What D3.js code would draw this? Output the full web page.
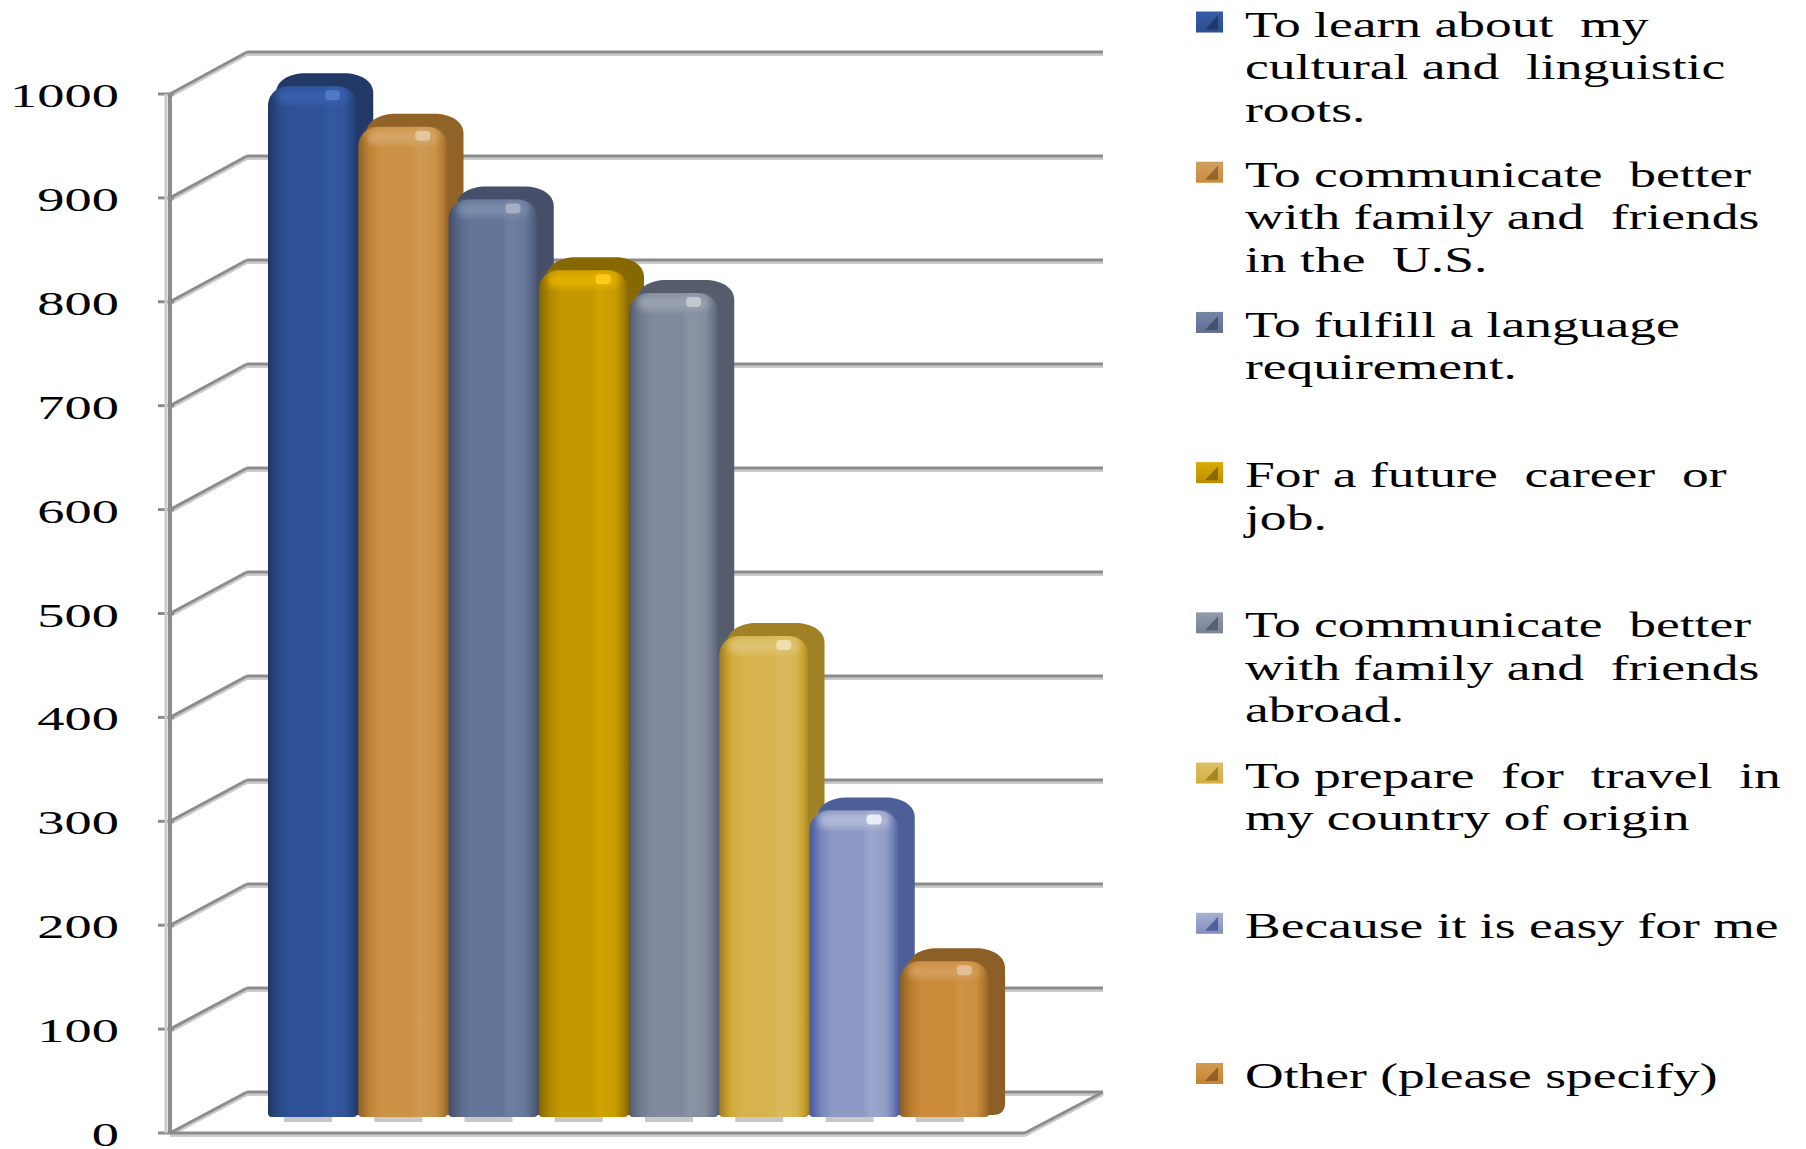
<!DOCTYPE html>
<html><head><meta charset="utf-8">
<style>html,body{margin:0;padding:0;background:#fff}svg{display:block}text{font-family:"Liberation Serif",serif;fill:#000}</style>
<script src="https://cdn.jsdelivr.net/npm/d3@7/dist/d3.min.js"></script>
</head><body><svg id="c" width="1806" height="1149"></svg>
<script>
const categories=[
 "To learn about my cultural and linguistic roots.",
 "To communicate better with family and friends in the U.S.",
 "To fulfill a language requirement.",
 "For a future career or job.",
 "To communicate better with family and friends abroad.",
 "To prepare for travel in my country of origin",
 "Because it is easy for me",
 "Other (please specify)"];
const legendLines=[
 ["To learn about  my","cultural and  linguistic","roots."],
 ["To communicate  better","with family and  friends","in the  U.S."],
 ["To fulfill a language","requirement."],
 ["For a future  career  or","job."],
 ["To communicate  better","with family and  friends","abroad."],
 ["To prepare  for  travel  in","my country of origin"],
 ["Because it is easy for me"],
 ["Other (please specify)"]];
const values=[992,953,883,815,793,463,295,150];
const ticks=[0,100,200,300,400,500,600,700,800,900,1000];
const baseColors=["#2f5296","#cb9145","#64759a","#c49800","#808a9c","#d6b34c","#8d99c5","#cb8b3a"];

const svg=d3.select("#c");
const y=d3.scaleLinear().domain([0,1000]).range([1133,94]);
const yBack=d3.scaleLinear().domain([0,1000]).range([1092,52]);
const x=d3.scaleBand().domain(categories).range([268,990]);
const axisX=170, backX=247, floorR=1025, backR=1103;
const defs=svg.append("defs");
defs.append("filter").attr("id","soft").attr("x","-20%").attr("y","-20%").attr("width","140%").attr("height","140%")
  .append("feGaussianBlur").attr("stdDeviation",3.5);
defs.append("filter").attr("id","edge").attr("x","-5%").attr("y","-5%").attr("width","110%").attr("height","110%")
  .append("feGaussianBlur").attr("stdDeviation",0.7);

// walls
const grid=svg.append("g");
function gl(x1,y1,x2,y2){
  grid.append("line").attr("x1",x1).attr("y1",y1+2.5).attr("x2",x2).attr("y2",y2+2.5).attr("stroke","#cbcbcb").attr("stroke-width",3);
  grid.append("line").attr("x1",x1).attr("y1",y1).attr("x2",x2).attr("y2",y2).attr("stroke","#8c8c8c").attr("stroke-width",3);
}
ticks.forEach(t=>{
  gl(backX,yBack(t),backR,yBack(t));
  gl(axisX,y(t),backX,yBack(t));
  grid.append("line").attr("x1",158).attr("x2",axisX+4).attr("y1",y(t)).attr("y2",y(t)).attr("stroke","#8c8c8c").attr("stroke-width",3);
});
grid.append("line").attr("x1",axisX-4).attr("x2",axisX-4).attr("y1",y(1000)).attr("y2",y(0)).attr("stroke","#cbcbcb").attr("stroke-width",3);
grid.append("line").attr("x1",axisX).attr("x2",axisX).attr("y1",y(1000)).attr("y2",y(0)).attr("stroke","#8c8c8c").attr("stroke-width",4);
gl(axisX,y(0),floorR,y(0));
gl(floorR,y(0),backR,yBack(0));

// tick labels
const yLabel=d3.scaleLinear().domain([0,1000]).range([1146,107]);
svg.append("g").selectAll("text").data(ticks).join("text")
  .attr("transform",t=>`translate(119,${yLabel(t)}) scale(1.65,1)`)
  .attr("text-anchor","end").attr("font-size",33).text(d=>d);

// bars
function shade(c,k){const h=d3.hsl(c);h.l*=k;return h.formatHex();}
categories.forEach((c,i)=>{
  const col=baseColors[i];
  const g=defs.append("linearGradient").attr("id","f"+i);
  [[0,.66],[.05,.76],[.13,.9],[.25,1],[.6,1],[.68,1.07],[.86,1.02],[.95,.84],[1,.7]]
    .forEach(s=>g.append("stop").attr("offset",s[0]).attr("stop-color",shade(col,s[1])));
  const k=defs.append("linearGradient").attr("id","k"+i).attr("x1",0).attr("x2",0).attr("y1",0).attr("y2",1);
  [[0,1.12],[.6,1.02],[1,.95]].forEach(s=>k.append("stop").attr("offset",s[0]).attr("stop-color",shade(col,s[1])));
});
const base=1117, lift=y(0)-base, sx=16, sy=-13;
function topRound(x0,x1,t,b,rx,ry,rb){
  return `M${x0},${b-rb}L${x0},${t+ry}C${x0},${t+ry*.4} ${x0+rx*.4},${t} ${x0+rx},${t}L${x1-rx},${t}C${x1-rx*.4},${t} ${x1},${t+ry*.4} ${x1},${t+ry}L${x1},${b-rb}Q${x1},${b} ${x1-rb},${b}L${x0+rb},${b}Q${x0},${b} ${x0},${b-rb}Z`;
}
const bars=svg.append("g").selectAll("g").data(values).join("g");
bars.append("rect").attr("x",(d,i)=>x(categories[i])+16).attr("width",48).attr("y",base).attr("height",5).attr("fill","#c8c8c8");
bars.append("path") // back and side
  .attr("d",(d,i)=>{const a=x(categories[i]),w=x.bandwidth();return topRound(a+sx-8,a+w-1+sx,y(d)-lift+sy,base-2,30,20,12);})
  .attr("fill",(d,i)=>shade(baseColors[i],.68)).attr("filter","url(#edge)");
bars.append("path") // front
  .attr("d",(d,i)=>{const a=x(categories[i]),w=x.bandwidth();return topRound(a,a+w-1,y(d)-lift,base,22,20,4);})
  .attr("fill",(d,i)=>`url(#f${i})`);
bars.append("rect") // rounded shoulder
  .attr("x",(d,i)=>x(categories[i])+9).attr("width",x.bandwidth()-20)
  .attr("y",d=>y(d)-lift+3).attr("height",14).attr("rx",7)
  .attr("fill",(d,i)=>shade(baseColors[i],1.16)).attr("filter","url(#soft)");
bars.append("rect") // glint
  .attr("x",(d,i)=>x(categories[i])+57).attr("width",15)
  .attr("y",d=>y(d)-lift+4).attr("height",10).attr("rx",4)
  .attr("fill",(d,i)=>shade(baseColors[i],1.42)).attr("filter","url(#edge)");

// legend
const legendY=d3.scaleLinear().domain([0,7]).range([22.5,1074]);
const lg=svg.append("g").selectAll("g").data(categories).join("g")
  .attr("transform",(d,i)=>`translate(0,${legendY(i)})`);
lg.append("rect").attr("x",1196).attr("y",-11).attr("width",27).attr("height",21).attr("fill",(d,i)=>`url(#k${i})`);
lg.append("path").attr("d","M1205,7L1218,-7L1218,7Z").attr("fill",(d,i)=>shade(baseColors[i],.7));
lg.each(function(d,i){
  d3.select(this).selectAll("text").data(legendLines[i]).join("text")
    .attr("transform",(l,j)=>`translate(1245,${14+j*42.5}) scale(1.53,1)`)
    .attr("font-size",35).style("white-space","pre").text(l=>l);
});
</script></body></html>
